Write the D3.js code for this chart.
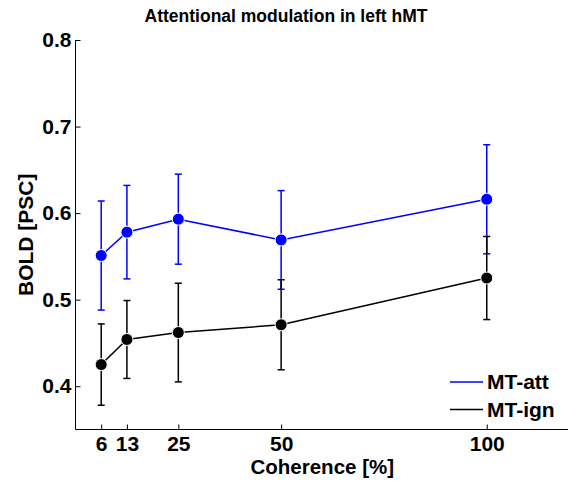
<!DOCTYPE html>
<html>
<head>
<meta charset="utf-8">
<script src="https://cdn.jsdelivr.net/npm/d3@7/dist/d3.min.js"></script>
<style>
  html, body { margin: 0; padding: 0; background: #fff; }
  svg { display: block; font-family: "Liberation Sans", Arial, Helvetica, sans-serif; font-weight: bold; }
</style>
</head>
<body>
<svg id="chart" width="568" height="481"></svg>
<script>
// ---- data ----
const coherence = [6.25, 12.5, 25, 50, 100];
const tickValues = [6.25, 12.5, 25, 50, 100];
const tickLabels = ["6", "13", "25", "50", "100"];
const yTicks = [0.4, 0.5, 0.6, 0.7, 0.8];
const attMean = [0.551, 0.578, 0.593, 0.569, 0.616];
const attErr  = [0.063, 0.054, 0.052, 0.057, 0.063];
const ignMean = [0.425, 0.454, 0.462, 0.471, 0.525];
const ignErr  = [0.047, 0.045, 0.057, 0.052, 0.048];
const seriesNames = ["MT-att", "MT-ign"];
const seriesColors = ["#0000ff", "#000000"];

const svg = d3.select("#chart");
const x = d3.scaleLinear().domain([0, 120]).range([75.5, 569]);
const y = d3.scaleLinear().domain([0.35, 0.8]).range([429.5, 40]);

// axes
const yAxis = d3.axisLeft(y).tickValues(yTicks).tickFormat(d3.format(".1f")).tickSize(-5).tickPadding(4);
const xAxis = d3.axisBottom(x).tickValues(tickValues).tickFormat((d, i) => tickLabels[i]).tickSize(-5).tickPadding(7);

const gy = svg.append("g").attr("transform", `translate(${x(0)},0)`).call(yAxis);
const gx = svg.append("g").attr("transform", `translate(0,${y(0.35)})`).call(xAxis);
[gx, gy].forEach(g => {
  g.select(".domain").attr("stroke", "#000").attr("stroke-width", 1);
  g.selectAll(".tick line").attr("stroke", "#000").attr("stroke-width", 1);
  g.selectAll(".tick text").attr("fill", "#000").style("font-size", "21px").style("font-family", "'Liberation Sans', Arial, sans-serif").style("font-weight", "bold");
});
gy.select(".domain").attr("d", `M0,${y(0.35)}V${y(0.8)}`);
gx.select(".domain").attr("d", `M${x(0)},0H${x(120)}`);

// series
const series = [
  {name: seriesNames[0], color: seriesColors[0], mean: attMean, err: attErr},
  {name: seriesNames[1], color: seriesColors[1], mean: ignMean, err: ignErr}
];
const line = d3.line().x(d => x(d.x)).y(d => y(d.m));
const capW = 3.5;

series.forEach(s => {
  const pts = coherence.map((c, i) => ({x: c, m: s.mean[i], e: s.err[i]}));
  const g = svg.append("g");
  pts.forEach(p => {
    const cx = x(p.x), yt = y(p.m + p.e), yb = y(p.m - p.e);
    g.append("line").attr("x1", cx).attr("x2", cx).attr("y1", yt).attr("y2", yb)
      .attr("stroke", s.color).attr("stroke-width", 1.5);
    g.append("line").attr("x1", cx - capW).attr("x2", cx + capW).attr("y1", yt).attr("y2", yt)
      .attr("stroke", s.color).attr("stroke-width", 1.5);
    g.append("line").attr("x1", cx - capW).attr("x2", cx + capW).attr("y1", yb).attr("y2", yb)
      .attr("stroke", s.color).attr("stroke-width", 1.5);
  });
  g.append("path").datum(pts).attr("d", line).attr("fill", "none")
    .attr("stroke", s.color).attr("stroke-width", 1.5);
  g.selectAll("circle").data(pts).enter().append("circle")
    .attr("cx", d => x(d.x)).attr("cy", d => y(d.m)).attr("r", 6)
    .attr("fill", s.color).attr("stroke", "#fff").attr("stroke-width", 1);
});

// title
svg.append("text").attr("x", 286).attr("y", 22).attr("text-anchor", "middle")
  .style("font-size", "17.5px").text("Attentional modulation in left hMT");
// x label
svg.append("text").attr("x", x(60)).attr("y", 474).attr("text-anchor", "middle")
  .style("font-size", "20.5px").text("Coherence [%]");
// y label
svg.append("text").attr("transform", `translate(33,${(y(0.35) + y(0.8)) / 2}) rotate(-90)`)
  .attr("text-anchor", "middle").style("font-size", "21px").text("BOLD [PSC]");

// legend
const leg = svg.append("g");
series.forEach((s, i) => {
  const ly = 382 + i * 27.5;
  leg.append("line").attr("x1", 450).attr("x2", 483).attr("y1", ly).attr("y2", ly)
    .attr("stroke", s.color).attr("stroke-width", 1.5);
  leg.append("text").attr("x", 487).attr("y", ly + 7).style("font-size", "21px").text(s.name);
});
</script>
</body>
</html>
